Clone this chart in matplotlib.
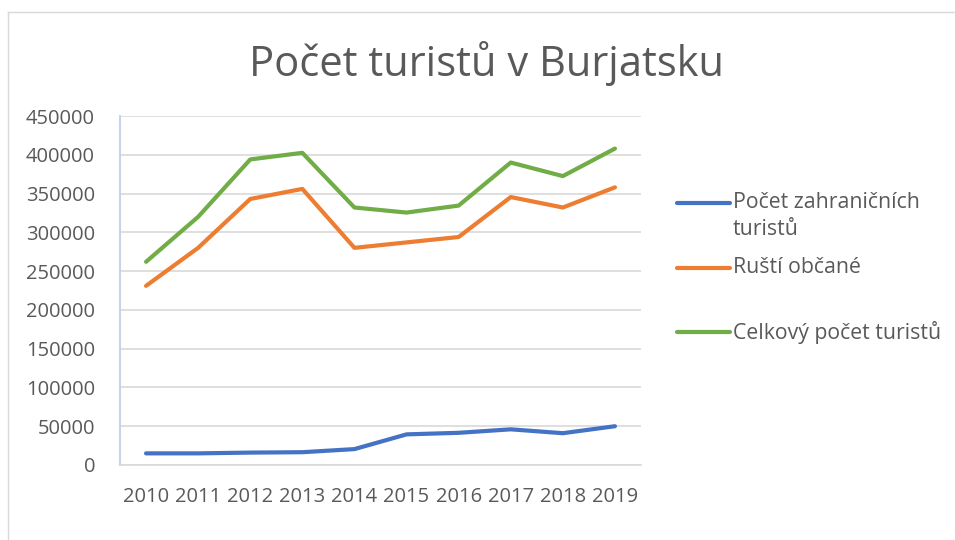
import matplotlib
matplotlib.use('Agg')
import matplotlib.pyplot as plt
from matplotlib.lines import Line2D

years = ['2010', '2011', '2012', '2013', '2014', '2015', '2016', '2017', '2018', '2019']
foreign = [15000, 15000, 16000, 16500, 20500, 39500, 41500, 46000, 41000, 50000]
russian = [231000, 280000, 343000, 356000, 280000, 287000, 294000, 345500, 332000, 358000]
total = [262000, 320000, 394000, 402500, 332000, 325500, 334500, 390000, 372500, 408000]
series_names = ['Počet zahraničních\nturistů', 'Ruští občané', 'Celkový počet turistů']
colors = ['#4472c4', '#ed7d31', '#70ad47']

plt.rcParams['font.family'] = ['Open Sans', 'DejaVu Sans']
text_color = '#595959'

fig = plt.figure(figsize=(9.55, 5.4), dpi=100)
ax = fig.add_axes([120 / 955, 75 / 540, 521 / 955, 349 / 540])

x = list(range(len(years)))
for vals, c in zip([foreign, russian, total], colors):
    ax.plot(x, vals, color=c, lw=3, solid_capstyle='round', solid_joinstyle='round', zorder=3)

ax.set_xlim(-0.5, len(years) - 0.5)
ax.set_ylim(0, 450000)
ax.set_yticks(range(0, 450001, 50000))
ax.set_xticks(x)
ax.set_xticklabels(years)
ax.grid(axis='y', color='#d9d9d9', lw=1.2)
ax.set_axisbelow(True)
for s in ['top', 'right']:
    ax.spines[s].set_visible(False)
ax.spines['bottom'].set_color('#d9d9d9')
ax.spines['bottom'].set_linewidth(1.2)
ax.spines['left'].set_color('#c5d3ec')
ax.spines['left'].set_linewidth(1.5)
ax.tick_params(length=0, labelsize=14.5, colors=text_color)
ax.tick_params(axis='y', pad=18)
ax.tick_params(axis='x', pad=16)

fig.text(0.509, 0.883, 'Počet turistů v Burjatsku', ha='center', va='center',
         fontsize=30, color=text_color)

# legend drawn by hand so the marker sits on the first text line
legend_y = [203, 268, 332]
for name, c, ly in zip(series_names, colors, legend_y):
    yf = 1 - ly / 540
    fig.add_artist(Line2D([677 / 955, 730 / 955], [yf, yf], color=c, lw=3,
                          solid_capstyle='round'))
    fig.text(733 / 955, yf + 11 / 540, name, ha='left', va='top', fontsize=15.3,
             color=text_color, linespacing=1.35)

# outer chart frame (top and left edges visible)
fig.add_artist(Line2D([7.5 / 955, 7.5 / 955], [0, 1 - 11.5 / 540], color='#d9d9d9', lw=1))
fig.add_artist(Line2D([7.5 / 955, 1], [1 - 11.5 / 540, 1 - 11.5 / 540], color='#d9d9d9', lw=1))

fig.savefig('out.png', dpi=100)
